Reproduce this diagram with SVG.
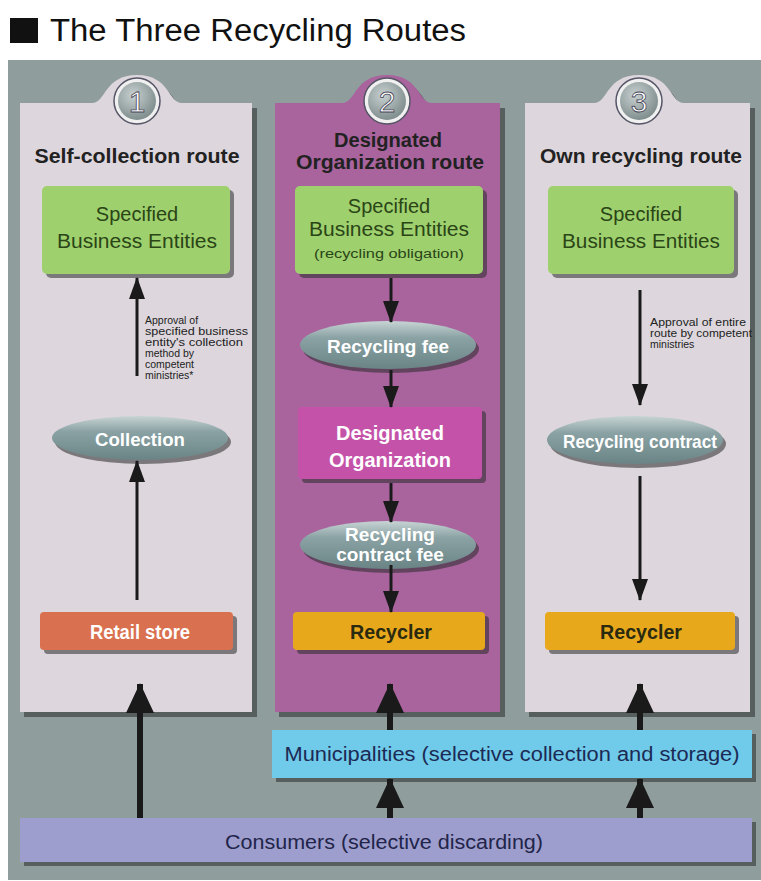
<svg xmlns="http://www.w3.org/2000/svg" width="761" height="881" viewBox="0 0 761 881">
<style>
text{font-family:"Liberation Sans",Arial,sans-serif;text-anchor:middle}
.title{font-size:31px;text-anchor:start;fill:#111}
.rt{font-size:20px;font-weight:bold;fill:#222}
.gt{font-size:20px;fill:#2a4516}
.gs{font-size:12px;fill:#2a4516}
.et{font-size:19px;font-weight:bold;fill:#fff}
.wt{font-size:20px;font-weight:bold;fill:#fff}
.dt{font-size:20px;font-weight:bold;fill:#2a2a10}
.note{font-size:10.5px;fill:#222;text-anchor:start}
.num{font-size:30px;fill:#fff;stroke:#445;stroke-width:0.8px}
.panel{fill:#ddd7dd}
.panel2{fill:#a9649e}
.sh{fill:#2a2a2a;opacity:0.55}
.conn line{stroke:#1a1a1a}
.thin{stroke-width:3}
.thick{stroke-width:6}
</style>
<defs>
<marker id="ah" markerUnits="userSpaceOnUse" markerWidth="22" markerHeight="16" refX="21" refY="8" orient="auto">
<path d="M0,0 L22,8 L0,16 z" fill="#1a1a1a"/>
</marker>
<marker id="AH" markerUnits="userSpaceOnUse" markerWidth="30" markerHeight="28" refX="29" refY="14" orient="auto">
<path d="M0,0 L30,14 L0,28 z" fill="#1a1a1a"/>
</marker>
<linearGradient id="ell" x1="0" y1="0" x2="0" y2="1">
<stop offset="0" stop-color="#c8d4d4"/>
<stop offset="0.35" stop-color="#8aa2a4"/>
<stop offset="1" stop-color="#6a8486"/>
</linearGradient>
<radialGradient id="circ" cx="0.4" cy="0.35" r="0.7">
<stop offset="0" stop-color="#c8d0d0"/>
<stop offset="1" stop-color="#7c8a8a"/>
</radialGradient>
</defs>

<!-- title -->
<rect x="10" y="18" width="28" height="25" fill="#111"/>
<text class="title" x="50" y="41" textLength="416" lengthAdjust="spacingAndGlyphs">The Three Recycling Routes</text>

<!-- background -->
<rect x="8" y="60" width="753" height="820" fill="#8f9e9d"/>

<!-- panels -->
<g id="panel1">
<path class="sh" d="M24,108 H96 C110,108 108,80 141,80 C174,80 172,108 186,108 H257 V717 H24 Z"/>
<path class="panel" d="M20,103 H92 C106,103 104,75 137,75 C170,75 168,103 182,103 H252 V712 H20 Z"/>
<circle cx="137" cy="101" r="23" fill="#f0f0f0" stroke="#556" stroke-width="1.5"/>
<circle cx="137" cy="101" r="19" fill="url(#circ)"/>
<text class="num" x="137" y="112">1</text>
<text class="rt" x="137" y="163" textLength="205" lengthAdjust="spacingAndGlyphs">Self-collection route</text>
</g>
<g id="panel2">
<path class="sh" d="M279,108 H346 C360,108 358,80 391,80 C424,80 422,108 436,108 H505 V717 H279 Z"/>
<path class="panel2" d="M275,103 H342 C356,103 354,75 387,75 C420,75 418,103 432,103 H500 V712 H275 Z"/>
<circle cx="387" cy="101" r="23" fill="#f0f0f0" stroke="#556" stroke-width="1.5"/>
<circle cx="387" cy="101" r="19" fill="url(#circ)"/>
<text class="num" x="387" y="112">2</text>
<text class="rt" x="388" y="147">Designated</text>
<text class="rt" x="390" y="169" textLength="188" lengthAdjust="spacingAndGlyphs">Organization route</text>
</g>
<g id="panel3">
<path class="sh" d="M529,108 H598 C612,108 610,80 643,80 C676,80 674,108 688,108 H755 V717 H529 Z"/>
<path class="panel" d="M525,103 H594 C608,103 606,75 639,75 C672,75 670,103 684,103 H750 V712 H525 Z"/>
<circle cx="639" cy="101" r="23" fill="#f0f0f0" stroke="#556" stroke-width="1.5"/>
<circle cx="639" cy="101" r="19" fill="url(#circ)"/>
<text class="num" x="639" y="112">3</text>
<text class="rt" x="641" y="163" textLength="202" lengthAdjust="spacingAndGlyphs">Own recycling route</text>
</g>

<!-- panel 1 nodes -->
<g id="sbe1">
<rect class="sh" x="46" y="190" width="188" height="88" rx="5"/>
<rect x="42" y="186" width="188" height="88" rx="5" fill="#9fd06e"/>
<text class="gt" x="137" y="221">Specified</text>
<text class="gt" x="137" y="248" textLength="160" lengthAdjust="spacingAndGlyphs">Business Entities</text>
</g>
<g id="collection">
<ellipse cx="143" cy="442" rx="88" ry="22" fill="#2a2a2a" opacity="0.55"/>
<ellipse cx="140" cy="438" rx="88" ry="22" fill="url(#ell)"/>
<text class="et" x="140" y="446" textLength="90" lengthAdjust="spacingAndGlyphs">Collection</text>
</g>
<g id="retail">
<rect class="sh" x="44" y="616" width="193" height="38" rx="4"/>
<rect x="40" y="612" width="193" height="38" rx="4" fill="#d9704f"/>
<text class="wt" x="140" y="639" textLength="100" lengthAdjust="spacingAndGlyphs">Retail store</text>
</g>
<g id="note1">
<text class="note" x="145" y="324">Approval of</text>
<text class="note" x="145" y="335" textLength="103" lengthAdjust="spacingAndGlyphs">specified business</text>
<text class="note" x="145" y="346" textLength="98" lengthAdjust="spacingAndGlyphs">entity's collection</text>
<text class="note" x="145" y="357">method by</text>
<text class="note" x="145" y="368">competent</text>
<text class="note" x="145" y="379">ministries*</text>
</g>

<!-- panel 2 nodes -->
<g id="sbe2">
<rect class="sh" x="299" y="190" width="188" height="88" rx="5"/>
<rect x="295" y="186" width="188" height="88" rx="5" fill="#9fd06e"/>
<text class="gt" x="389" y="213">Specified</text>
<text class="gt" x="389" y="236" textLength="160" lengthAdjust="spacingAndGlyphs">Business Entities</text>
<text class="gs" x="389" y="258" textLength="150" lengthAdjust="spacingAndGlyphs">(recycling obligation)</text>
</g>
<g id="fee">
<ellipse cx="391" cy="349" rx="88" ry="24" fill="#2a2a2a" opacity="0.55"/>
<ellipse cx="388" cy="345" rx="88" ry="24" fill="url(#ell)"/>
<text class="et" x="388" y="353" textLength="122" lengthAdjust="spacingAndGlyphs">Recycling fee</text>
</g>
<g id="desorg">
<rect class="sh" x="302" y="411" width="184" height="72" rx="4"/>
<rect x="298" y="407" width="184" height="72" rx="4" fill="#c452a9"/>
<text class="wt" x="390" y="440" textLength="108" lengthAdjust="spacingAndGlyphs">Designated</text>
<text class="wt" x="390" y="467" textLength="122" lengthAdjust="spacingAndGlyphs">Organization</text>
</g>
<g id="cfee">
<ellipse cx="391" cy="549" rx="88" ry="24" fill="#2a2a2a" opacity="0.55"/>
<ellipse cx="388" cy="545" rx="88" ry="24" fill="url(#ell)"/>
<text class="et" x="390" y="541">Recycling</text>
<text class="et" x="390" y="561">contract fee</text>
</g>
<g id="recycler2">
<rect class="sh" x="297" y="616" width="192" height="38" rx="4"/>
<rect x="293" y="612" width="192" height="38" rx="4" fill="#e8a81c"/>
<text class="dt" x="391" y="639" textLength="82" lengthAdjust="spacingAndGlyphs">Recycler</text>
</g>

<!-- panel 3 nodes -->
<g id="sbe3">
<rect class="sh" x="552" y="190" width="186" height="88" rx="5"/>
<rect x="548" y="186" width="186" height="88" rx="5" fill="#9fd06e"/>
<text class="gt" x="641" y="221">Specified</text>
<text class="gt" x="641" y="248" textLength="158" lengthAdjust="spacingAndGlyphs">Business Entities</text>
</g>
<g id="note3">
<text class="note" x="650" y="326" textLength="96" lengthAdjust="spacingAndGlyphs">Approval of entire</text>
<text class="note" x="650" y="337" textLength="102" lengthAdjust="spacingAndGlyphs">route by competent</text>
<text class="note" x="650" y="348">ministries</text>
</g>
<g id="contract">
<ellipse cx="638" cy="444" rx="88" ry="24" fill="#2a2a2a" opacity="0.55"/>
<ellipse cx="635" cy="440" rx="88" ry="24" fill="url(#ell)"/>
<text class="et" x="640" y="448" textLength="154" lengthAdjust="spacingAndGlyphs">Recycling contract</text>
</g>
<g id="recycler3">
<rect class="sh" x="549" y="616" width="190" height="38" rx="4"/>
<rect x="545" y="612" width="190" height="38" rx="4" fill="#e8a81c"/>
<text class="dt" x="641" y="639" textLength="82" lengthAdjust="spacingAndGlyphs">Recycler</text>
</g>

<!-- bottom nodes -->
<g id="municipalities">
<rect class="sh" x="276" y="734" width="480" height="48"/>
<rect x="272" y="730" width="480" height="48" fill="#6fcbe9"/>
<text x="512" y="761" font-size="20px" fill="#1c2a55" textLength="455" lengthAdjust="spacingAndGlyphs">Municipalities (selective collection and storage)</text>
</g>
<g id="consumers">
<rect class="sh" x="24" y="822" width="732" height="44"/>
<rect x="20" y="818" width="732" height="44" fill="#9d9ecd"/>
<text x="384" y="849" font-size="20px" fill="#22244a" textLength="318" lengthAdjust="spacingAndGlyphs">Consumers (selective discarding)</text>
</g>

<!-- connectors -->
<g id="connectors" class="conn">
<line class="thin" x1="137" y1="376" x2="137" y2="278" marker-end="url(#ah)"/>
<line class="thin" x1="137" y1="600" x2="137" y2="461" marker-end="url(#ah)"/>
<line class="thin" x1="391" y1="278" x2="391" y2="322" marker-end="url(#ah)"/>
<line class="thin" x1="391" y1="370" x2="391" y2="407" marker-end="url(#ah)"/>
<line class="thin" x1="391" y1="483" x2="391" y2="522" marker-end="url(#ah)"/>
<line class="thin" x1="391" y1="565" x2="391" y2="612" marker-end="url(#ah)"/>
<line class="thin" x1="640" y1="290" x2="640" y2="405" marker-end="url(#ah)"/>
<line class="thin" x1="640" y1="476" x2="640" y2="600" marker-end="url(#ah)"/>
<line class="thick" x1="140" y1="818" x2="140" y2="684" marker-end="url(#AH)"/>
<line class="thick" x1="390" y1="730" x2="390" y2="684" marker-end="url(#AH)"/>
<line class="thick" x1="640" y1="730" x2="640" y2="684" marker-end="url(#AH)"/>
<line class="thick" x1="390" y1="818" x2="390" y2="779" marker-end="url(#AH)"/>
<line class="thick" x1="640" y1="818" x2="640" y2="779" marker-end="url(#AH)"/>
</g>
</svg>
